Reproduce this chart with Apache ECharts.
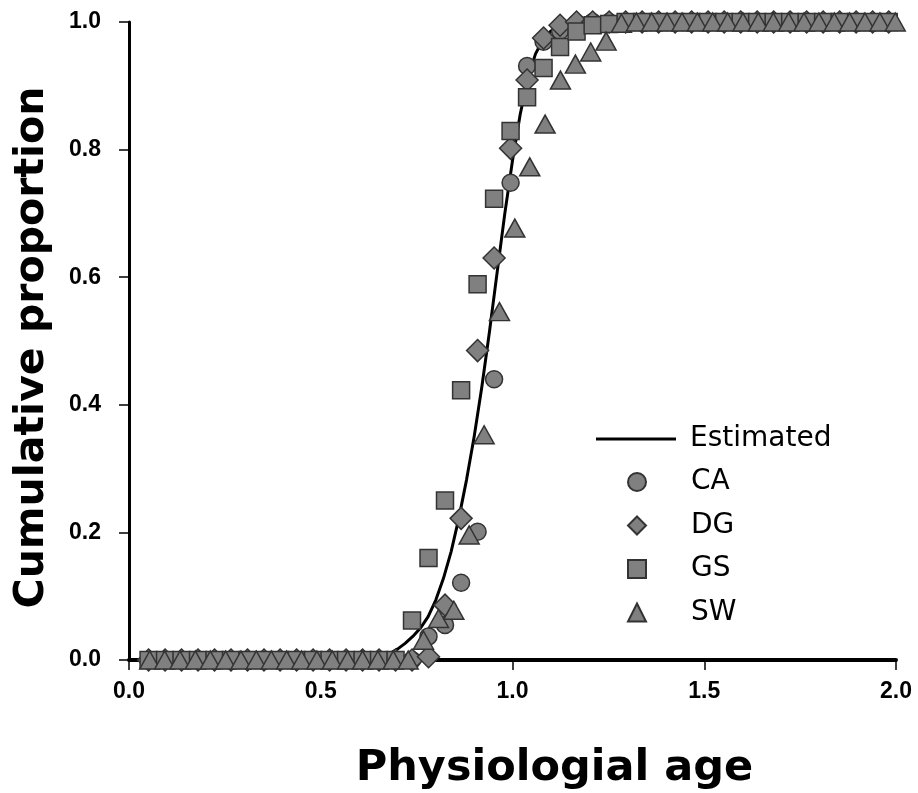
<!DOCTYPE html>
<html><head><meta charset="utf-8">
<script src="https://cdn.jsdelivr.net/npm/echarts@6/dist/echarts.min.js"></script>
<style>html,body{margin:0;padding:0;background:#fff}#c{width:918px;height:793px}</style>
</head><body><div id="c"></div>
<script>
// ---- data ----
const xTickValues = [0.0, 0.5, 1.0, 1.5, 2.0];
const yTickValues = [0.0, 0.2, 0.4, 0.6, 0.8, 1.0];

const curveAge  = [0.00, 0.62, 0.64, 0.66, 0.68, 0.70, 0.72, 0.74, 0.76, 0.78, 0.80, 0.82, 0.84, 0.86, 0.88, 0.90, 0.92, 0.94, 0.96, 0.98, 1.00, 1.02, 1.04, 1.06, 1.08, 1.10, 1.12, 1.14, 1.17, 2.00];
const curveProp = [0.000, 0.000, 0.002, 0.005, 0.010, 0.017, 0.026, 0.037, 0.050, 0.068, 0.094, 0.128, 0.170, 0.222, 0.282, 0.350, 0.428, 0.515, 0.608, 0.700, 0.783, 0.855, 0.912, 0.950, 0.973, 0.986, 0.993, 0.997, 1.000, 1.000];

const ageGrid = [0.051, 0.094, 0.137, 0.180, 0.223, 0.266, 0.309, 0.352, 0.394, 0.437, 0.480, 0.523, 0.566, 0.609, 0.652, 0.695, 0.738, 0.781, 0.824, 0.866, 0.909, 0.952, 0.995, 1.038, 1.081, 1.124, 1.167, 1.209, 1.252, 1.295, 1.338, 1.381, 1.424, 1.467, 1.510, 1.552, 1.595, 1.638, 1.681, 1.724, 1.767, 1.810, 1.853, 1.896, 1.939, 1.981];

const caProp = [0,0,0,0,0,0,0,0,0,0,0,0,0,0,0,0,0, 0.037, 0.055, 0.121, 0.201, 0.440, 0.748, 0.931, 0.969, 0.986, 0.998, 1,1,1,1,1,1,1,1,1,1,1,1,1,1,1,1,1,1,1];
const dgProp = [0,0,0,0,0,0,0,0,0,0,0,0,0,0,0,0,0, 0.005, 0.086, 0.222, 0.485, 0.630, 0.802, 0.909, 0.975, 0.995, 1,1,1,1,1,1,1,1,1,1,1,1,1,1,1,1,1,1,1,1];
const gsProp = [0,0,0,0,0,0,0,0,0,0,0,0,0,0,0,0, 0.062, 0.160, 0.250, 0.423, 0.589, 0.723, 0.829, 0.882, 0.928, 0.961, 0.985, 0.995, 0.997, 1,1,1,1,1,1,1,1,1,1,1,1,1,1,1,1,1];

const swAge  = [0.054, 0.093, 0.133, 0.173, 0.212, 0.252, 0.292, 0.332, 0.371, 0.411, 0.450, 0.490, 0.530, 0.570, 0.609, 0.649, 0.689, 0.728, 0.768, 0.807, 0.847, 0.887, 0.926, 0.966, 1.006, 1.045, 1.085, 1.125, 1.164, 1.204, 1.244, 1.284, 1.323, 1.363, 1.403, 1.442, 1.482, 1.522, 1.561, 1.601, 1.641, 1.680, 1.720, 1.760, 1.799, 1.839, 1.879, 1.919, 1.958, 1.998];
const swProp = [0,0,0,0,0,0,0,0,0,0,0,0,0,0,0,0,0,0, 0.031, 0.065, 0.078, 0.196, 0.353, 0.546, 0.677, 0.773, 0.840, 0.909, 0.934, 0.953, 0.970, 0.998, 1,1,1,1,1,1,1,1,1,1,1,1,1,1,1,1,1,1];

const seriesNames = ['Estimated', 'CA', 'DG', 'GS', 'SW'];
const markerIcons = ['circle', 'diamond', 'rect', 'triangle'];
const xTitle = 'Physiologial age';
const yTitle = 'Cumulative proportion';

// ---- build chart ----
const zip = (a, b) => a.map((v, i) => [v, b[i]]);
const markerStyle = { color: '#808080', borderColor: '#333333', borderWidth: 1.5, opacity: 1 };
const tickFont = { fontFamily: 'Liberation Sans', fontWeight: 'bold', fontSize: 23, color: '#000' };
const legendFont = { fontFamily: 'DejaVu Sans', fontSize: 28, color: '#000', lineHeight: 30 };

const chart = echarts.init(document.getElementById('c'), null, { renderer: 'canvas' });
chart.setOption({
  animation: false,
  backgroundColor: '#ffffff',
  grid: { left: 129, right: 22, top: 22, bottom: 133, containLabel: false, outerBoundsMode: 'none' },
  legend: [
    {
      data: [{ name: seriesNames[0], icon: 'rect' }],
      orient: 'vertical', left: 596, top: 424, padding: 0,
      itemWidth: 80, itemHeight: 3,
      textStyle: Object.assign({ padding: [0, 0, 0, 9] }, legendFont),
      selectedMode: false
    },
    {
      data: seriesNames.slice(1).map((n, i) => ({ name: n, icon: markerIcons[i] })),
      orient: 'vertical', left: 627, top: 467, padding: 0,
      itemWidth: 18, itemHeight: 18, itemGap: 13.5,
      textStyle: Object.assign({ padding: [0, 0, 0, 40] }, legendFont),
      selectedMode: false
    }
  ],
  xAxis: {
    type: 'value', min: xTickValues[0], max: xTickValues[xTickValues.length - 1], interval: 0.5,
    axisLine: { show: true, onZero: false, lineStyle: { color: '#000', width: 4 } },
    axisTick: { show: true, inside: false, length: 10, lineStyle: { color: '#000', width: 1.5 } },
    axisLabel: Object.assign({ margin: 20, showMinLabel: true, showMaxLabel: true, hideOverlap: false,
      formatter: v => v.toFixed(1) }, tickFont),
    splitLine: { show: false },
    name: xTitle, nameLocation: 'middle', nameGap: 87,
    nameTextStyle: { fontFamily: 'DejaVu Sans', fontWeight: 'bold', fontSize: 43, color: '#000', padding: [0, 0, 0, 84] }
  },
  yAxis: {
    type: 'value', min: yTickValues[0], max: yTickValues[yTickValues.length - 1], interval: 0.2,
    axisLine: { show: true, onZero: false, lineStyle: { color: '#000', width: 3 } },
    axisTick: { show: true, inside: false, length: 10, lineStyle: { color: '#000', width: 1.5 } },
    axisLabel: Object.assign({ margin: 28, showMinLabel: true, showMaxLabel: true, hideOverlap: false,
      formatter: v => v.toFixed(1) }, tickFont),
    splitLine: { show: false },
    name: yTitle, nameLocation: 'middle', nameGap: 76, nameRotate: 90,
    nameTextStyle: { fontFamily: 'DejaVu Sans', fontWeight: 'bold', fontSize: 41, color: '#000', padding: [0, 13, 0, 0] }
  },
  series: [
    { name: seriesNames[0], type: 'line', data: zip(curveAge, curveProp), symbol: 'none', smooth: false,
      lineStyle: { color: '#000', width: 3, join: 'round' }, itemStyle: { color: '#000' }, z: 2 },
    { name: seriesNames[1], type: 'scatter', data: zip(ageGrid, caProp), symbol: 'circle', symbolSize: 17, itemStyle: markerStyle, z: 3 },
    { name: seriesNames[2], type: 'scatter', data: zip(ageGrid, dgProp), symbol: 'diamond', symbolSize: 22, itemStyle: markerStyle, z: 3 },
    { name: seriesNames[3], type: 'scatter', data: zip(ageGrid, gsProp), symbol: 'rect', symbolSize: 17, itemStyle: markerStyle, z: 3 },
    { name: seriesNames[4], type: 'scatter', data: zip(swAge, swProp), symbol: 'triangle', symbolSize: [20, 18], itemStyle: markerStyle, z: 3 }
  ]
});
</script>
</body></html>
